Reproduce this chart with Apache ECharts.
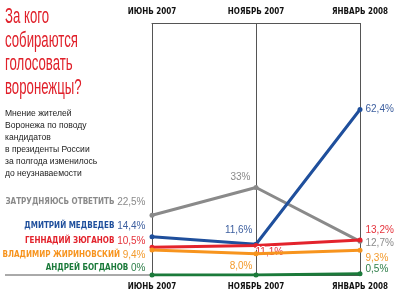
<!DOCTYPE html>
<html><head><meta charset="utf-8">
<script src="https://cdn.jsdelivr.net/npm/echarts@6/dist/echarts.min.js"></script>
<style>html,body{margin:0;padding:0;background:#fff}#c{width:400px;height:300px}</style>
</head><body><div id="c"></div>
<script>
// ---- data ----
const periods = ['ИЮНЬ 2007', 'НОЯБРЬ 2007', 'ЯНВАРЬ 2008'];
const seriesNames = ['ЗАТРУДНЯЮСЬ ОТВЕТИТЬ', 'ДМИТРИЙ МЕДВЕДЕВ', 'ГЕННАДИЙ ЗЮГАНОВ', 'ВЛАДИМИР ЖИРИНОВСКИЙ', 'АНДРЕЙ БОГДАНОВ'];
const undecided   = [22.5, 33, 12.7];
const medvedev    = [14.4, 11.6, 62.4];
const zyuganov    = [10.5, 11.1, 13.2];
const zhirinovsky = [9.4, 8.0, 9.3];
const bogdanov    = [0, 0, 0.5];
const titleLines = ['За кого', 'собираются', 'голосовать', 'воронежцы?'];
const noteLines = ['Мнение жителей', 'Воронежа по поводу', 'кандидатов', 'в президенты России', 'за полгода изменилось', 'до неузнаваемости'];

// ---- styling / layout ----
const values = [undecided, medvedev, zyuganov, zhirinovsky, bogdanov];
const colors = ['#8a8a8a', '#1f4f9c', '#e3232c', '#f7941e', '#1b7a3a'];
const labelColors = ['#8a8a8a', '#3d5f9f', '#e5323b', '#f39a2c', '#2c7d47'];
// per series, per point: [position, dx, dy, decimals, distance] or null (hidden)
const labelLayout = [
  [['left', 0, -13, 1, 4], ['left', 0, -10, 0, 3], ['right', 0, 1.5, 1, 3]],
  [['left', 0, -11, 1, 4], ['left', 0, -14, 1, 1], ['right', 0, 0, 1, 3]],
  [['left', 0, -6, 1, 4], ['right', -3, 7, 1, 0], ['right', 0, -10, 1, 3]],
  [['left', 0, 5, 1, 4], ['left', 0, 12, 1, 1], ['right', 0, 8, 1, 3]],
  [['left', 0, -7, 0, 4], null, ['right', 0, -4, 1, 3]]
];
const COND = '"DejaVu Sans Condensed", "Liberation Sans", sans-serif';
const SANS = '"Liberation Sans", Arial, sans-serif';
const fmt = (v, d) => v.toFixed(d).replace('.', ',') + '%';

const series = values.map((vals, si) => ({
  name: seriesNames[si],
  type: 'line',
  z: 3 + si,
  symbol: 'circle',
  symbolSize: 5,
  lineStyle: { width: 3, color: colors[si] },
  itemStyle: { color: colors[si] },
  data: vals.map((v, pi) => {
    const L = labelLayout[si][pi];
    if (!L) return { value: v, label: { show: false } };
    const txt = fmt(v, L[3]);
    const label = {
      show: true,
      position: L[0],
      distance: L[4],
      offset: [L[1], L[2]],
      color: labelColors[si],
      fontFamily: SANS,
      fontSize: 10,
      textBorderColor: '#fff',
      textBorderWidth: 2
    };
    if (pi === 0) {
      label.formatter = '{n|' + seriesNames[si] + '} {v|' + txt + '}';
      label.rich = {
        n: { fontFamily: COND, fontWeight: 'bold', fontSize: 8, color: colors[si] },
        v: { fontFamily: SANS, fontSize: 10, color: labelColors[si] }
      };
    } else {
      label.formatter = txt;
    }
    return { value: v, label };
  })
}));

const graphic = [];
titleLines.forEach((t, i) => graphic.push({
  type: 'text', x: 5, y: 17 + i * 23.5, scaleX: 0.6,
  style: { text: t, fill: '#e0202a', font: '22px ' + SANS, verticalAlign: 'middle', align: 'left' }
}));
noteLines.forEach((t, i) => graphic.push({
  type: 'text', x: 5, y: 113 + i * 12, scaleX: 0.9,
  style: { text: t, fill: '#222', font: '9.5px ' + SANS, verticalAlign: 'middle', align: 'left' }
}));

const axisLabelStyle = { fontFamily: COND, fontWeight: 'bold', fontSize: 8, color: '#111' };
const chart = echarts.init(document.getElementById('c'), null, { renderer: 'canvas' });
chart.setOption({
  animation: false,
  backgroundColor: '#fff',
  grid: { left: 152, right: 40, top: 23, bottom: 25 },
  xAxis: [
    {
      type: 'category', data: periods, boundaryGap: false, position: 'bottom',
      axisLine: { show: true, lineStyle: { color: '#555', width: 1 } },
      axisTick: { show: false },
      axisLabel: Object.assign({ margin: 8 }, axisLabelStyle),
      splitLine: { show: true, lineStyle: { color: '#555', width: 1 } }
    },
    {
      type: 'category', data: periods, boundaryGap: false, position: 'top',
      axisLine: { show: true, lineStyle: { color: '#555', width: 1 } },
      axisTick: { show: false },
      axisLabel: Object.assign({ margin: 7 }, axisLabelStyle),
      splitLine: { show: false }
    }
  ],
  yAxis: { type: 'value', min: 0, max: 95, show: false, splitLine: { show: false } },
  series,
  graphic
});
const p0 = chart.convertToPixel({ xAxisIndex: 0, yAxisIndex: 0 }, [0, 0]);
graphic.push({ type: 'line', shape: { x1: 5, y1: p0[1], x2: p0[0], y2: p0[1] }, style: { stroke: '#555', lineWidth: 1 }, z: 1 });
chart.setOption({ graphic });
</script></body></html>
